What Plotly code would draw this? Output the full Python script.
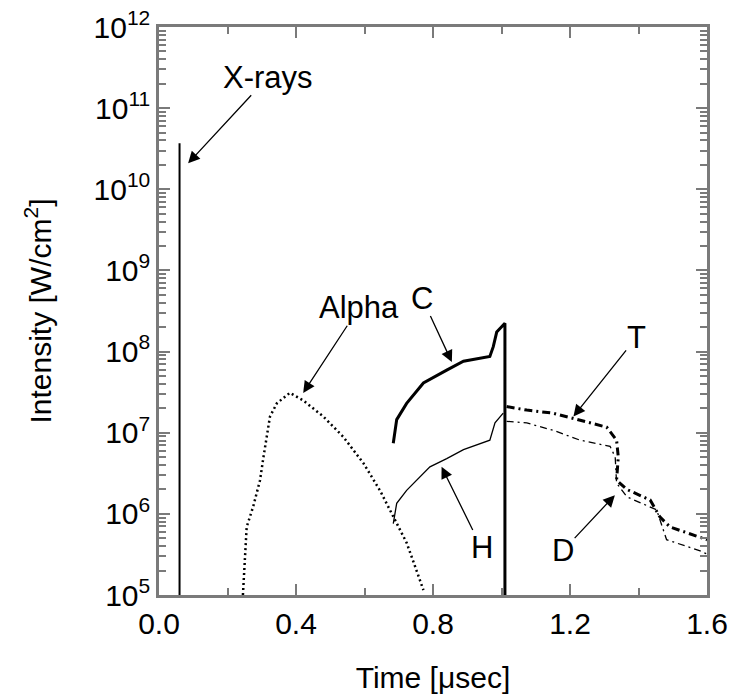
import plotly.graph_objects as go

# ---- data (time in microseconds, intensity in W/cm^2) ----
xray_t = [0.06, 0.06]
xray_i = [3.7e10, 1e4]

alpha_t = [0.245, 0.251, 0.256, 0.275, 0.295, 0.305, 0.314, 0.324, 0.344, 0.382,
           0.421, 0.480, 0.538, 0.597, 0.645, 0.684, 0.723, 0.752, 0.772]
alpha_i = [1.0e5, 3.5e5, 6.9e5, 1.23e6, 2.6e6, 5.0e6, 8.9e6, 1.58e7, 2.3e7, 3.1e7,
           2.5e7, 1.58e7, 8.9e6, 4.2e6, 1.95e6, 9.1e5, 4.4e5, 2.0e5, 1.15e5]

c_t = [0.684, 0.694, 0.723, 0.772, 0.840, 0.889, 0.966, 0.976, 0.986, 1.010, 1.010]
c_i = [7.4e6, 1.45e7, 2.3e7, 4.1e7, 5.9e7, 7.6e7, 8.7e7, 1.15e8, 1.74e8, 2.24e8, 1e4]

h_t = [0.684, 0.694, 0.723, 0.752, 0.791, 0.840, 0.889, 0.966, 0.981, 1.005]
h_i = [7.6e5, 1.35e6, 1.95e6, 2.6e6, 3.8e6, 4.8e6, 6.2e6, 8.1e6, 1.32e7, 1.74e7]

t_t = [1.015, 1.074, 1.151, 1.210, 1.307, 1.336, 1.341, 1.336, 1.366, 1.434,
       1.463, 1.492, 1.580, 1.600]
t_i = [2.1e7, 1.9e7, 1.74e7, 1.5e7, 1.17e7, 8.1e6, 5.0e6, 2.6e6, 2.0e6, 1.48e6,
       9.1e5, 6.9e5, 5.2e5, 4.8e5]

d_t = [1.015, 1.074, 1.151, 1.229, 1.317, 1.332, 1.336, 1.366, 1.453, 1.482,
       1.580, 1.600]
d_i = [1.38e7, 1.32e7, 1.07e7, 8.1e6, 6.8e6, 5.0e6, 2.4e6, 1.62e6, 1.12e6, 4.8e5,
       3.5e5, 3.2e5]

x_ticks = [0.0, 0.4, 0.8, 1.2, 1.6]
x_ticktext = ["0.0", "0.4", "0.8", "1.2", "1.6"]
y_ticks = [1e5, 1e6, 1e7, 1e8, 1e9, 1e10, 1e11, 1e12]
y_ticktext = ["10<sup>5</sup>", "10<sup>6</sup>", "10<sup>7</sup>", "10<sup>8</sup>",
              "10<sup>9</sup>", "10<sup>10</sup>", "10<sup>11</sup>", "10<sup>12</sup>"]

FONT = "Liberation Sans, Arial, Helvetica, sans-serif"

fig = go.Figure()
fig.add_trace(go.Scatter(x=xray_t, y=xray_i, mode="lines", name="X-rays",
                         line=dict(color="black", width=2)))
fig.add_trace(go.Scatter(x=alpha_t, y=alpha_i, mode="lines", name="Alpha",
                         line=dict(color="black", width=2.5, dash="2px,3px")))
fig.add_trace(go.Scatter(x=c_t, y=c_i, mode="lines", name="C",
                         line=dict(color="black", width=3)))
fig.add_trace(go.Scatter(x=h_t, y=h_i, mode="lines", name="H",
                         line=dict(color="black", width=1.3)))
fig.add_trace(go.Scatter(x=t_t, y=t_i, mode="lines", name="T",
                         line=dict(color="black", width=3, dash="8px,4px,2px,4px")))
fig.add_trace(go.Scatter(x=d_t, y=d_i, mode="lines", name="D",
                         line=dict(color="black", width=1.3, dash="7px,4px,2px,4px")))

# labelled arrows: (label, text x, text log y, arrow head x, arrow head log y)
labels = [
    ("X-rays", 0.318, 11.38, 0.085, 10.32),
    ("Alpha", 0.584, 8.54, 0.421, 7.49),
    ("C", 0.768, 8.66, 0.855, 7.87),
    ("H", 0.942, 5.58, 0.825, 6.58),
    ("T", 1.393, 8.17, 1.210, 7.20),
    ("D", 1.180, 5.55, 1.331, 6.23),
]
annotations = []
for txt, lx, ly, hx, hy in labels:
    annotations.append(dict(x=hx, y=hy, ax=lx, ay=ly, xref="x", yref="y",
                            axref="x", ayref="y", text=txt, showarrow=True,
                            arrowhead=2, arrowsize=1.8, arrowwidth=1.3,
                            arrowcolor="black", standoff=0, startstandoff=0,
                            borderpad=0,
                            font=dict(size=31, color="black", family=FONT)))

axis_common = dict(showline=True, linecolor="#7a7a7a", linewidth=2.5, mirror="ticks",
                   ticks="inside", tickcolor="#7a7a7a", tickwidth=2, ticklen=11,
                   showgrid=False, zeroline=False, automargin=False,
                   tickfont=dict(size=30, color="black", family=FONT))

fig.update_layout(
    width=731, height=699,
    margin=dict(l=159, r=24, t=27, b=104),
    paper_bgcolor="white", plot_bgcolor="white",
    showlegend=False,
    font=dict(family=FONT, color="black"),
    annotations=annotations,
    xaxis=dict(range=[0, 1.6], tickvals=x_ticks, ticktext=x_ticktext,
               minor=dict(ticks="inside", dtick=0.2, ticklen=7, tickcolor="#7a7a7a", tickwidth=2),
               title=dict(text="Time [μsec]", font=dict(size=30, family=FONT), standoff=29),
               **axis_common),
    yaxis=dict(type="log", range=[5, 12], tickvals=y_ticks, ticktext=y_ticktext,
               minor=dict(ticks="inside", dtick="D1", ticklen=7, tickcolor="#7a7a7a", tickwidth=1.5),
               title=dict(text="Intensity [W/cm<sup>2</sup>]", font=dict(size=30, family=FONT), standoff=34),
               **axis_common),
)

fig.write_html("out.html")
